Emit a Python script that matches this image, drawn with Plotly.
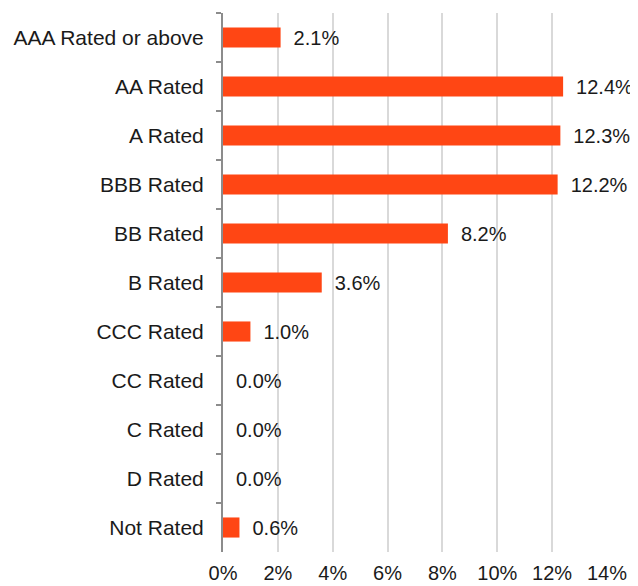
import plotly.graph_objects as go

categories = ["AAA Rated or above", "AA Rated", "A Rated", "BBB Rated", "BB Rated",
              "B Rated", "CCC Rated", "CC Rated", "C Rated", "D Rated", "Not Rated"]
values = [2.1, 12.4, 12.3, 12.2, 8.2, 3.6, 1.0, 0.0, 0.0, 0.0, 0.6]
x_ticks = [0, 2, 4, 6, 8, 10, 12, 14]
x_tick_labels = [f"{t}%" for t in x_ticks]

fig = go.Figure(go.Bar(
    y=categories, x=values, orientation="h",
    marker=dict(color="#FF4614", line=dict(width=0)),
    text=[f"\u2002{v:.1f}%" for v in values],
    textposition="outside",
    constraintext="none",
    textfont=dict(family="Liberation Sans, Arial", size=20, color="#1a1a1a"),
    cliponaxis=False,
))

# page body has an 8px margin, so the figure is drawn 8px smaller and offset
fig.update_layout(
    width=630, height=578,
    margin=dict(l=215, r=31, t=5, b=34, autoexpand=False),
    paper_bgcolor="white", plot_bgcolor="white",
    bargap=0.59,
    showlegend=False,
    font=dict(family="Liberation Sans, Arial", size=21, color="#1a1a1a"),
    xaxis=dict(range=[0, 14], tickvals=x_ticks, ticktext=x_tick_labels,
               showgrid=True, gridcolor="#d9d9d9", gridwidth=1.5,
               zeroline=False, showline=False, ticks="", automargin=False,
               ticklabelstandoff=7, tickfont=dict(size=20)),
    yaxis=dict(autorange="reversed", categoryorder="array", categoryarray=categories,
               showline=True, linecolor="#8c8c8c", linewidth=2, automargin=False,
               ticks="outside", tickson="boundaries", ticklen=5, tickwidth=2,
               tickcolor="#8c8c8c", ticklabelstandoff=13, tickfont=dict(size=21),
               showgrid=False),
)

fig.write_html("out.html")
